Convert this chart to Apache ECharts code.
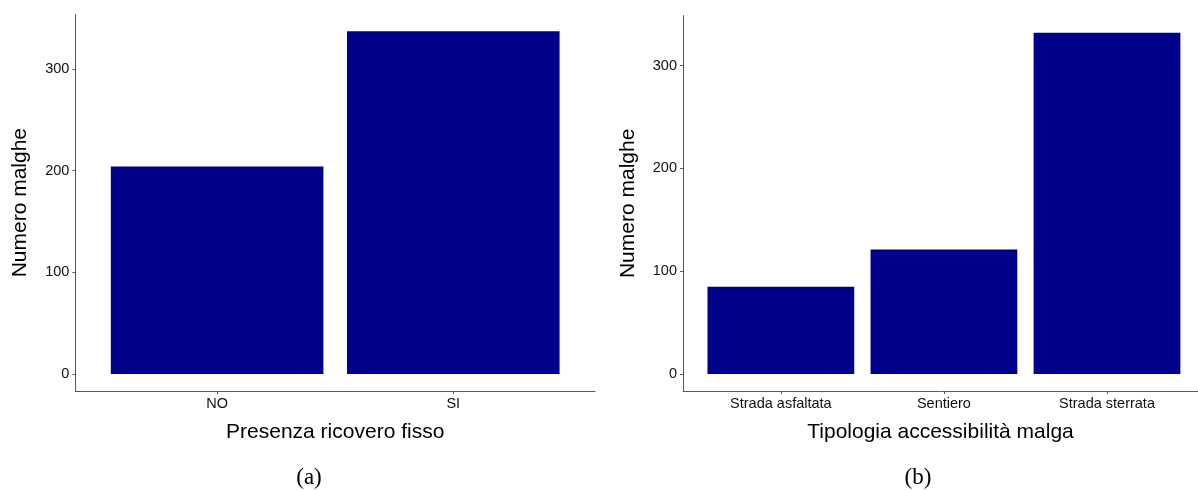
<!DOCTYPE html>
<html>
<head>
<meta charset="utf-8">
<script src="https://cdn.jsdelivr.net/npm/echarts@6/dist/echarts.min.js"></script>
<style>
  html, body { margin: 0; padding: 0; background: #ffffff; }
  #chart { width: 1198px; height: 490px; }
</style>
</head>
<body>
<div id="chart"></div>
<script>
// Panel (a): fixed shelter present
const shelterCategories = ['NO', 'SI'];
const shelterCounts = [204, 337];

// Panel (b): access type of the alpine pasture
const accessCategories = ['Strada asfaltata', 'Sentiero', 'Strada sterrata'];
const accessCounts = [85, 121, 332];

const yTicks = [0, 100, 200, 300];
const yTitle = 'Numero malghe';
const xTitleA = 'Presenza ricovero fisso';
const xTitleB = 'Tipologia accessibilità malga';

const SANS = '"Liberation Sans", Arial, Helvetica, sans-serif';
const BAR_COLOR = '#00008B';
const AXIS_COLOR = '#5a5a5a';
const TEXT_COLOR = '#111111';

// Discrete axis padded by 0.6 of a category on each side (rightPad lets the
// right panel end at the page edge), value axis padded by 5%
function xAxisFor(gridIndex, cats, title, rightPad) {
  const positions = cats.map((_, i) => i + 1);
  return {
    type: 'value', gridIndex,
    min: 0.4, max: cats.length + rightPad,
    name: title, nameLocation: 'middle', nameGap: 31,
    nameTextStyle: { fontFamily: SANS, fontSize: 21, color: '#000' },
    splitLine: { show: false },
    axisLine: { show: true, onZero: false, lineStyle: { color: AXIS_COLOR, width: 1 } },
    axisTick: { show: true, length: 3, customValues: positions, lineStyle: { color: AXIS_COLOR } },
    axisLabel: {
      customValues: positions, margin: 5,
      fontFamily: SANS, fontSize: 14.5, color: TEXT_COLOR,
      formatter: v => cats[Math.round(v) - 1]
    }
  };
}

function yAxisFor(gridIndex, values, gap) {
  const top = Math.max(...values);
  return {
    type: 'value', gridIndex,
    min: -0.05 * top, max: 1.05 * top,
    name: yTitle, nameLocation: 'middle', nameGap: gap,
    nameTextStyle: { fontFamily: SANS, fontSize: 21, color: '#000' },
    splitLine: { show: false },
    axisLine: { show: true, onZero: false, lineStyle: { color: AXIS_COLOR, width: 1 } },
    axisTick: { show: true, length: 3, customValues: yTicks, lineStyle: { color: AXIS_COLOR } },
    axisLabel: {
      customValues: yTicks, margin: 6,
      fontFamily: SANS, fontSize: 14.5, color: TEXT_COLOR
    }
  };
}

const chart = echarts.init(document.getElementById('chart'), null, { renderer: 'canvas' });

chart.setOption({
  backgroundColor: '#ffffff',
  animation: false,
  title: [
    { text: '(a)', left: 304, top: 461, textAlign: 'center',
      textStyle: { fontFamily: '"Liberation Serif", "Times New Roman", serif', fontSize: 23, fontWeight: 'normal', color: '#000' } },
    { text: '(b)', left: 913, top: 461, textAlign: 'center',
      textStyle: { fontFamily: '"Liberation Serif", "Times New Roman", serif', fontSize: 23, fontWeight: 'normal', color: '#000' } }
  ],
  grid: [
    { left: 75.4, right: 603, top: 14.2, bottom: 98.9 },
    { left: 683, right: 0, top: 15.6, bottom: 98.9 }
  ],
  xAxis: [
    xAxisFor(0, shelterCategories, xTitleA, 0.6),
    xAxisFor(1, accessCategories, xTitleB, 0.558)
  ],
  yAxis: [
    yAxisFor(0, shelterCounts, 45),
    yAxisFor(1, accessCounts, 44)
  ],
  series: [
    {
      type: 'bar', xAxisIndex: 0, yAxisIndex: 0, barWidth: '90%',
      itemStyle: { color: BAR_COLOR },
      data: shelterCounts.map((v, i) => [i + 1, v])
    },
    {
      type: 'bar', xAxisIndex: 1, yAxisIndex: 1, barWidth: '90%',
      itemStyle: { color: BAR_COLOR },
      data: accessCounts.map((v, i) => [i + 1, v])
    }
  ]
});
</script>
</body>
</html>
